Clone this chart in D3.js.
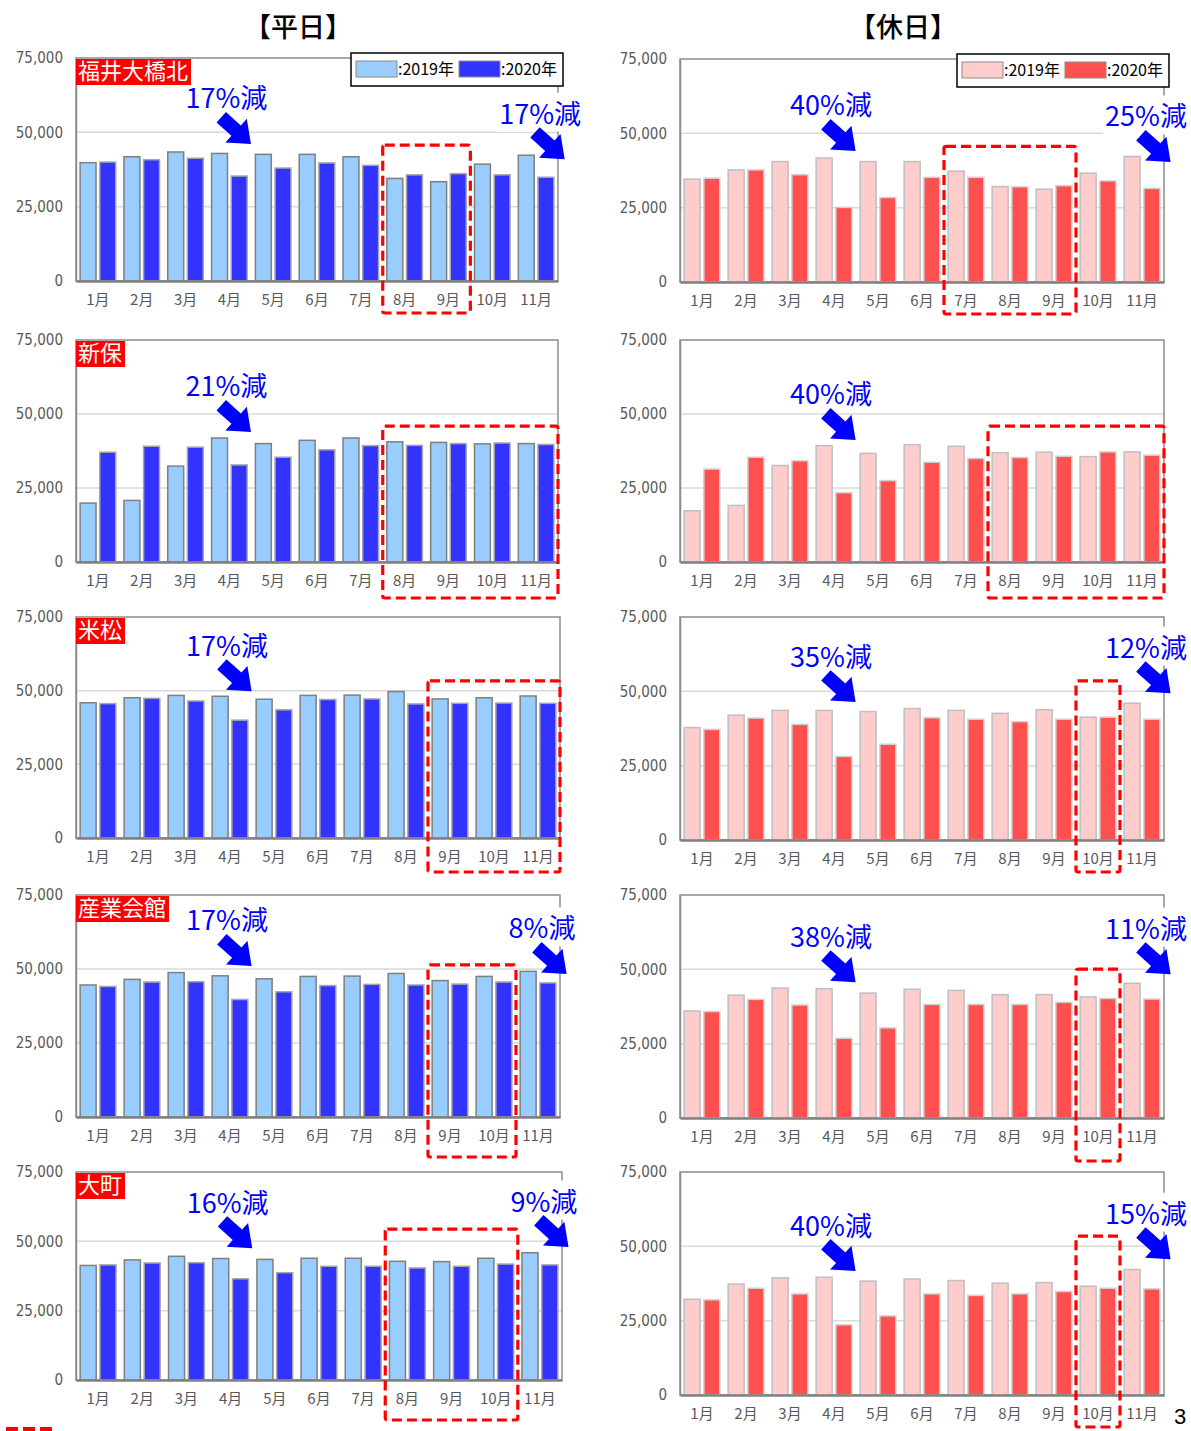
<!DOCTYPE html>
<html>
<head>
<meta charset="utf-8">
<title>平日・休日 交通量</title>
<script src="https://cdn.jsdelivr.net/npm/d3@7"></script>
<style>
  body { margin: 0; background: #fff; }
  svg { display: block; }
  .tick text { font-family: "Liberation Sans Narrow", "DejaVu Sans Condensed", "Noto Sans CJK JP", sans-serif; }
  .month text { font-family: "Liberation Sans Narrow", "Noto Sans CJK JP", sans-serif; }
  .jp { font-family: "Noto Sans CJK JP", sans-serif; }
</style>
</head>
<body>
<svg id="chart" width="1191" height="1431"></svg>
<script>
// ---- data ----
var months = ["1月","2月","3月","4月","5月","6月","7月","8月","9月","10月","11月"];
var years = ["2019年","2020年"];
var yTicks = [0, 25000, 50000, 75000];
var yMax = 75000;

// 福井大橋北
var ohashiWd2019 = [39800,41800,43400,42900,42600,42600,41800,34500,33400,39300,42300];
var ohashiWd2020 = [40000,40800,41300,35300,38000,39700,38900,35700,36100,35700,34900];
var ohashiHd2019 = [34600,37700,40500,41700,40500,40500,37300,32100,31200,36600,42200];
var ohashiHd2020 = [34900,37700,36100,25100,28400,35200,35200,32000,32400,34000,31500];
// 新保
var shinboWd2019 = [19900,20800,32400,41900,40000,41100,41900,40600,40400,39900,40000];
var shinboWd2020 = [37100,39100,38800,32800,35400,37900,39300,39400,40000,40200,39700];
var shinboHd2019 = [17300,19100,32600,39300,36700,39600,39100,36900,37100,35600,37200];
var shinboHd2020 = [31400,35400,34200,23400,27500,33700,35000,35300,35700,37200,36100];
// 米松
var komematsuWd2019 = [45900,47600,48400,48100,47100,48400,48500,49700,47200,47600,48200];
var komematsuWd2020 = [45600,47400,46500,40000,43500,47000,47200,45500,45700,45800,45700];
var komematsuHd2019 = [37800,42000,43600,43600,43200,44200,43600,42600,43800,41300,46000];
var komematsuHd2020 = [37200,41000,38900,28100,32200,41100,40600,39800,40600,41300,40600];
// 産業会館
var sangyoWd2019 = [44600,46500,48800,47700,46700,47500,47600,48500,46100,47500,49200];
var sangyoWd2020 = [44100,45600,45700,39700,42300,44400,44800,44600,44900,45600,45300];
var sangyoHd2019 = [36000,41300,43700,43500,42000,43300,42900,41500,41500,40700,45300];
var sangyoHd2020 = [35800,39900,38000,26800,30300,38200,38200,38200,38900,40200,40000];
// 大町
var omachiWd2019 = [41300,43300,44600,43800,43500,43900,43900,42800,42700,43900,45900];
var omachiWd2020 = [41500,42200,42300,36500,38700,41000,41000,40400,41000,41800,41500];
var omachiHd2019 = [32200,37300,39400,39600,38300,39000,38500,37600,37800,36600,42200];
var omachiHd2020 = [32000,35900,34000,23600,26600,34000,33500,34000,34800,35900,35700];

// highlighted months (red dashed boxes) and the box top in data units
var ohashiWdHighlight = ["8月","9月"],              ohashiWdBoxTop = 45700;
var ohashiHdHighlight = ["7月","8月","9月"],        ohashiHdBoxTop = 45600;
var shinboWdHighlight = ["8月","9月","10月","11月"], shinboWdBoxTop = 45900;
var shinboHdHighlight = ["8月","9月","10月","11月"], shinboHdBoxTop = 45900;
var komematsuWdHighlight = ["9月","10月","11月"],   komematsuWdBoxTop = 53300;
var komematsuHdHighlight = ["10月"],                komematsuHdBoxTop = 53500;
var sangyoWdHighlight = ["9月","10月"],             sangyoWdBoxTop = 51400;
var sangyoHdHighlight = ["10月"],                   sangyoHdBoxTop = 50100;
var omachiWdHighlight = ["8月","9月","10月"],       omachiWdBoxTop = 54400;
var omachiHdHighlight = ["10月"],                   omachiHdBoxTop = 53400;

// annotations: month, value (text centre), label
var ohashiWdNotes = [["4月", 61900, "17%減"], ["11月", 56800, "17%減"]];
var ohashiHdNotes = [["4月", 59900, "40%減"], ["11月", 56200, "25%減"]];
var shinboWdNotes = [["4月", 59800, "21%減"]];
var shinboHdNotes = [["4月", 57100, "40%減"]];
var komematsuWdNotes = [["4月", 65800, "17%減"]];
var komematsuHdNotes = [["4月", 62200, "35%減"], ["11月", 65200, "12%減"]];
var sangyoWdNotes = [["4月", 66900, "17%減"], ["11月", 64200, "8%減"]];
var sangyoHdNotes = [["4月", 61500, "38%減"], ["11月", 64200, "11%減"]];
var omachiWdNotes = [["4月", 64500, "16%減"], ["11月", 64900, "9%減"]];
var omachiHdNotes = [["4月", 57500, "40%減"], ["11月", 61500, "15%減"]];

var locations = ["福井大橋北","新保","米松","産業会館","大町"];
var sideTitles = ["【平日】","【休日】"];

// ---- layout ----
var themes = {
  wd: { fill: ["#99CCFF", "#3333FF"], stroke: ["#7F7F7F", "#A6A6A6"] },
  hd: { fill: ["#FFCCCC", "#FF5050"], stroke: ["#BFBFBF", "#D0D0D0"] }
};

var panels = [
  { name: locations[0], theme: "wd", a: ohashiWd2019, b: ohashiWd2020, hl: ohashiWdHighlight, boxTop: ohashiWdBoxTop, boxDrop: 32, notes: ohashiWdNotes, x0: 76, x1: 558, yTop: 58, yBot: 281, legend: true },
  { name: null, theme: "hd", a: ohashiHd2019, b: ohashiHd2020, hl: ohashiHdHighlight, boxTop: ohashiHdBoxTop, boxDrop: 32, notes: ohashiHdNotes, x0: 680, x1: 1164, yTop: 59, yBot: 282, legend: true },
  { name: locations[1], theme: "wd", a: shinboWd2019, b: shinboWd2020, hl: shinboWdHighlight, boxTop: shinboWdBoxTop, boxDrop: 36, notes: shinboWdNotes, x0: 76, x1: 558, yTop: 340, yBot: 562 },
  { name: null, theme: "hd", a: shinboHd2019, b: shinboHd2020, hl: shinboHdHighlight, boxTop: shinboHdBoxTop, boxDrop: 36, notes: shinboHdNotes, x0: 680, x1: 1164, yTop: 340, yBot: 562 },
  { name: locations[2], theme: "wd", a: komematsuWd2019, b: komematsuWd2020, hl: komematsuWdHighlight, boxTop: komematsuWdBoxTop, boxDrop: 34, notes: komematsuWdNotes, x0: 76, x1: 560, yTop: 617, yBot: 838 },
  { name: null, theme: "hd", a: komematsuHd2019, b: komematsuHd2020, hl: komematsuHdHighlight, boxTop: komematsuHdBoxTop, boxDrop: 32, notes: komematsuHdNotes, x0: 680, x1: 1164, yTop: 617, yBot: 840 },
  { name: locations[3], theme: "wd", a: sangyoWd2019, b: sangyoWd2020, hl: sangyoWdHighlight, boxTop: sangyoWdBoxTop, boxDrop: 40, notes: sangyoWdNotes, x0: 76, x1: 560, yTop: 895, yBot: 1117 },
  { name: null, theme: "hd", a: sangyoHd2019, b: sangyoHd2020, hl: sangyoHdHighlight, boxTop: sangyoHdBoxTop, boxDrop: 43, notes: sangyoHdNotes, x0: 680, x1: 1164, yTop: 895, yBot: 1118 },
  { name: locations[4], theme: "wd", a: omachiWd2019, b: omachiWd2020, hl: omachiWdHighlight, boxTop: omachiWdBoxTop, boxDrop: 40, notes: omachiWdNotes, x0: 76, x1: 562, yTop: 1172, yBot: 1380 },
  { name: null, theme: "hd", a: omachiHd2019, b: omachiHd2020, hl: omachiHdHighlight, boxTop: omachiHdBoxTop, boxDrop: 32, notes: omachiHdNotes, x0: 680, x1: 1164, yTop: 1172, yBot: 1395 }
];

var svg = d3.select("#chart");

// titles
svg.selectAll("text.title").data(sideTitles).join("text")
  .attr("class", "title jp")
  .attr("x", function(d, i) { return i === 0 ? 298 : 903; })
  .attr("y", 25)
  .attr("text-anchor", "middle")
  .attr("dominant-baseline", "central")
  .attr("font-size", 27)
  .attr("font-weight", 500)
  .attr("fill", "#000")
  .text(function(d) { return d; });

panels.forEach(drawPanel);

function drawPanel(p) {
  var th = themes[p.theme];
  var g = svg.append("g");

  var x = d3.scaleBand().domain(months).range([p.x0, p.x1]);
  var xs = d3.scaleBand().domain(years).range([0, x.bandwidth()]).paddingInner(0.19).paddingOuter(0.21);
  var y = d3.scaleLinear().domain([0, yMax]).range([p.yBot, p.yTop]);

  // gridlines
  g.selectAll("line.grid").data([25000, 50000]).join("line")
    .attr("x1", p.x0).attr("x2", p.x1)
    .attr("y1", function(d) { return y(d); }).attr("y2", function(d) { return y(d); })
    .attr("stroke", "#D9D9D9").attr("stroke-width", 1.5);

  // frame
  g.append("rect")
    .attr("x", p.x0).attr("y", y(yMax))
    .attr("width", p.x1 - p.x0).attr("height", y(0) - y(yMax))
    .attr("fill", "none").attr("stroke", "#8C8C8C").attr("stroke-width", 1.5);

  // bars
  var rows = months.map(function(m, i) {
    return { month: m, vals: [{ k: 0, year: years[0], v: p.a[i] }, { k: 1, year: years[1], v: p.b[i] }] };
  });
  var grp = g.selectAll("g.month-bars").data(rows).join("g")
    .attr("transform", function(d) { return "translate(" + x(d.month) + ",0)"; });
  grp.selectAll("rect").data(function(d) { return d.vals; }).join("rect")
    .attr("x", function(d) { return xs(d.year); })
    .attr("width", xs.bandwidth())
    .attr("y", function(d) { return y(d.v); })
    .attr("height", function(d) { return y(0) - y(d.v); })
    .attr("fill", function(d) { return th.fill[d.k]; })
    .attr("stroke", function(d) { return th.stroke[d.k]; })
    .attr("stroke-width", 1.5);

  // axes
  var ya = g.append("g").attr("transform", "translate(" + p.x0 + ",0)")
    .call(d3.axisLeft(y).tickValues(yTicks).tickFormat(d3.format(",")).tickSize(0).tickPadding(13));
  ya.select(".domain").attr("stroke", "#8C8C8C").attr("stroke-width", 1.5);
  ya.selectAll("text").attr("font-size", 15).attr("fill", "#595959");

  var xa = g.append("g").attr("class", "month").attr("transform", "translate(0," + p.yBot + ")")
    .call(d3.axisBottom(x).tickSize(0).tickPadding(13));
  xa.select(".domain").attr("stroke", "#808080").attr("stroke-width", 2.5);
  xa.selectAll("text").attr("font-size", 15).attr("fill", "#595959");

  // location tag
  if (p.name) {
    var tag = g.append("g");
    var tr = tag.append("rect").attr("fill", "#FF0000");
    var tt = tag.append("text").attr("class", "jp")
      .attr("x", p.x0 + 2).attr("y", y(yMax) + 21)
      .attr("font-size", 22).attr("fill", "#fff").text(p.name);
    var tw = tt.node().getComputedTextLength();
    tr.attr("x", p.x0).attr("y", y(yMax) + 1).attr("width", tw + 5).attr("height", 26);
  }

  // highlight box
  var first = p.hl[0], last = p.hl[p.hl.length - 1];
  var bx0 = x(first), bx1 = x(last) + x.bandwidth();
  g.append("rect")
    .attr("x", bx0).attr("y", y(p.boxTop))
    .attr("width", bx1 - bx0).attr("height", y(0) + p.boxDrop - y(p.boxTop))
    .attr("rx", 2)
    .attr("fill", "none").attr("stroke", "#FF0000").attr("stroke-width", 3.2)
    .attr("stroke-dasharray", "10,5");

  // annotations
  p.notes.forEach(function(n, i) {
    var cx = x(n[0]) + x.bandwidth() / 2 + (i > 0 ? 4 : -3);
    var cy = y(n[1]);
    var ng = g.append("g");
    var bg = ng.append("rect").attr("fill", "#fff");
    var t = ng.append("text").attr("class", "jp")
      .attr("x", cx).attr("y", cy)
      .attr("text-anchor", "middle").attr("dominant-baseline", "central")
      .attr("font-size", 27).attr("fill", "#0000FF").text(n[2]);
    if (i > 0) {
      var bb = t.node().getBBox();
      bg.attr("x", bb.x - 2).attr("y", bb.y).attr("width", bb.width + 4).attr("height", bb.height);
    }
    ng.append("path")
      .attr("d", "M-19,-7 L1,-7 L1,-16 L21,0 L1,16 L1,7 L-19,7 Z")
      .attr("transform", "translate(" + (cx + 9) + "," + (cy + 33) + ") rotate(42)")
      .attr("fill", "#0000FF");
  });

  // legend
  if (p.legend) {
    var lg = g.append("g").attr("transform", "translate(" + (p.x1 - 207) + "," + (y(yMax) - 5) + ")");
    lg.append("rect").attr("width", 212).attr("height", 33)
      .attr("fill", "#fff").attr("stroke", "#000").attr("stroke-width", 1.5);
    years.forEach(function(yr, k) {
      lg.append("rect").attr("x", 5 + k * 103).attr("y", 8).attr("width", 41).attr("height", 16)
        .attr("fill", th.fill[k]).attr("stroke", "#8C8C8C").attr("stroke-width", 1);
      lg.append("text").attr("x", 47 + k * 103).attr("y", 22)
        .attr("font-family", "'Liberation Sans Narrow', 'Noto Sans CJK JP', sans-serif")
        .attr("font-size", 16).attr("fill", "#000").text(":" + yr);
    });
  }
}

// remnants at the slide edge (dashed corner, page number)
svg.append("path").attr("d", "M6,1429 L50,1429 L50,1440")
  .attr("fill", "none").attr("stroke", "#FF0000").attr("stroke-width", 4).attr("stroke-dasharray", "12,5");
svg.append("text").attr("x", 1174).attr("y", 1424).attr("font-size", 22)
  .attr("font-family", "'Liberation Sans', sans-serif").attr("fill", "#000").text("3");
</script>
</body>
</html>
